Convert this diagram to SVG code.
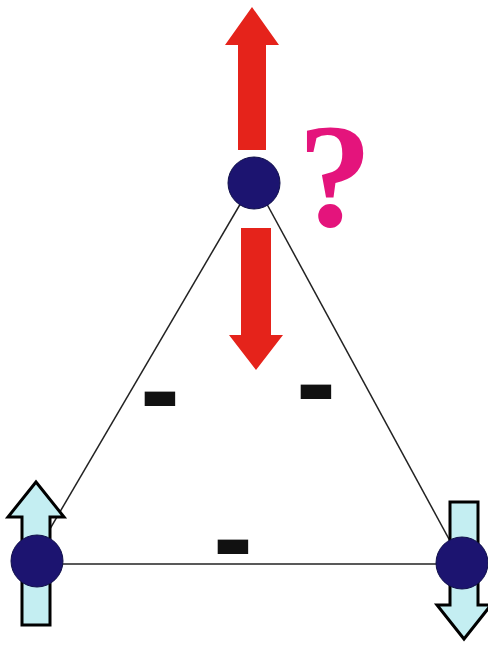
<svg xmlns="http://www.w3.org/2000/svg" width="488" height="645" viewBox="0 0 488 645">
  <style>
    .edge { stroke: #222; stroke-width: 1.5; fill: none; }
    .node { fill: #1c1470; stroke: #10104a; stroke-width: 1; }
    .red { fill: #e5231b; }
    .blue { fill: #c4eef2; stroke: #000; stroke-width: 3; stroke-linejoin: miter; }
    .minus { font-family: "Liberation Sans", Arial, sans-serif; font-weight: bold; font-size: 120px; fill: #111; text-anchor: middle; }
    .q { font-family: "Liberation Serif", "Times New Roman", serif; font-weight: bold; font-size: 148px; fill: #e4147c; text-anchor: middle; }
  </style>
  <rect width="488" height="645" fill="#fff"/>
  <g id="connectors">
    <line class="edge" x1="252" y1="184" x2="30" y2="563"/>
    <line class="edge" x1="256" y1="184" x2="462" y2="563"/>
    <line class="edge" x1="37" y1="564" x2="462" y2="564"/>
  </g>
  <g id="spin-top-up">
    <polygon class="red" points="252,7 279,45 266,45 266,150 238,150 238,45 225,45"/>
  </g>
  <g id="spin-top-down">
    <polygon class="red" points="241,228 271,228 271,335 283,335 256,370 229,335 241,335"/>
  </g>
  <g id="spin-left">
    <polygon class="blue" points="36,482 64,517 50,517 50,625 22,625 22,517 8,517"/>
  </g>
  <g id="spin-right">
    <polygon class="blue" points="450,502 478,502 478,605 491,605 464,639 437,605 450,605"/>
  </g>
  <g id="node-top">
    <circle class="node" cx="254" cy="183" r="26"/>
  </g>
  <g id="node-left">
    <circle class="node" cx="37" cy="561" r="26"/>
  </g>
  <g id="node-right">
    <circle class="node" cx="462" cy="563" r="26"/>
  </g>
  <g id="question">
    <text class="q" x="335" y="226">?</text>
  </g>
  <g id="labels">
    <text class="minus" x="160" y="430">-</text>
    <text class="minus" x="316" y="423">-</text>
    <text class="minus" x="233" y="578">-</text>
  </g>
</svg>
